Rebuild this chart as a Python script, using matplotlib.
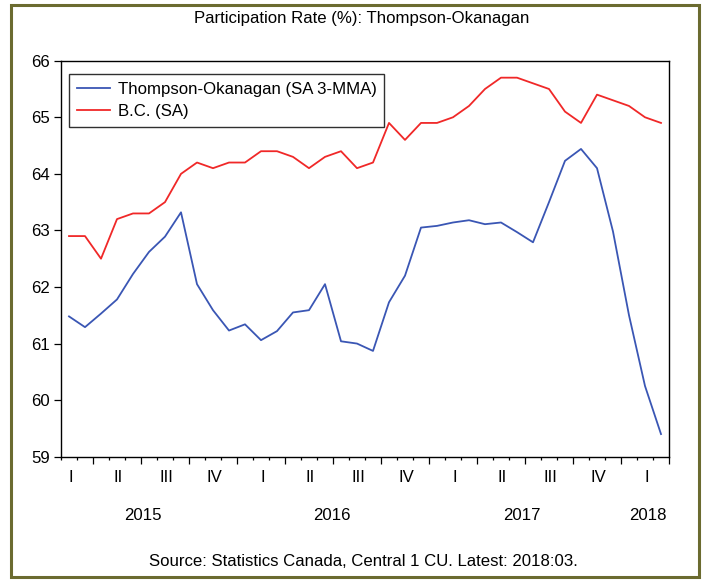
import matplotlib
matplotlib.use("Agg")
import matplotlib.pyplot as plt
import matplotlib.transforms as mtransforms
from matplotlib.patches import Rectangle
import numpy as np

plt.rcParams['font.family'] = ['Liberation Sans', 'DejaVu Sans']

# Monthly data, Jan 2015 - Feb 2018
thompson = [61.48, 61.29, 61.53, 61.78, 62.23, 62.62, 62.89, 63.32, 62.05, 61.59,
            61.23, 61.34, 61.06, 61.22, 61.55, 61.59, 62.05, 61.04, 61.00, 60.87,
            61.73, 62.20, 63.05, 63.08, 63.14, 63.18, 63.11, 63.14, 62.97, 62.79,
            63.50, 64.23, 64.44, 64.10, 62.98, 61.50, 60.25, 59.40]
bc = [62.9, 62.9, 62.5, 63.2, 63.3, 63.3, 63.5, 64.0, 64.2, 64.1,
      64.2, 64.2, 64.4, 64.4, 64.3, 64.1, 64.3, 64.4, 64.1, 64.2,
      64.9, 64.6, 64.9, 64.9, 65.0, 65.2, 65.5, 65.7, 65.7, 65.6,
      65.5, 65.1, 64.9, 65.4, 65.3, 65.2, 65.0, 64.9]
quarter_labels = ['I', 'II', 'III', 'IV', 'I', 'II', 'III', 'IV', 'I', 'II', 'III', 'IV', 'I']
year_labels = ['2015', '2016', '2017', '2018']
year_pos = [4.6, 16.4, 28.3, 36.2]
yticks = [59, 60, 61, 62, 63, 64, 65, 66]

FS = 12.1
W, H = 704, 580
fig = plt.figure(figsize=(W / 100, H / 100), dpi=100)
ax = fig.add_axes([61 / W, 1 - 456.7 / H, 608 / W, 396 / H])

x = np.arange(len(thompson))
ax.plot(x, thompson, color='#3a56b4', lw=1.3, label='Thompson-Okanagan (SA 3-MMA)')
ax.plot(x, bc, color='#f02828', lw=1.3, label='B.C. (SA)')

n = len(thompson)
ax.set_xlim(-0.5, n - 0.5)
ax.set_ylim(59, 66)
ax.set_yticks(yticks)
ax.set_yticklabels([str(v) for v in yticks])
ax.tick_params(axis='y', direction='out', length=5, width=0.9, labelsize=FS, pad=3)

# x ticks: short month-boundary ticks, long ticks every quarter
ax.set_xticks(np.arange(1.5, n, 3))
ax.set_xticks(np.arange(-0.5, n, 1), minor=True)
ax.set_xticklabels([])
ax.tick_params(axis='x', which='major', direction='out', length=5, width=0.9)
ax.tick_params(axis='x', which='minor', direction='out', length=2.5, width=0.9)

for s in ax.spines.values():
    s.set_linewidth(1.0)
    s.set_color('black')

trans = mtransforms.blended_transform_factory(ax.transData, fig.transFigure)
for q, lab in enumerate(quarter_labels):
    ax.text(3 * q + 0.1, 1 - 478 / H, lab, transform=trans, ha='center', va='center',
            fontsize=FS)
for yp, lab in zip(year_pos, year_labels):
    ax.text(yp, 1 - 516 / H, lab, transform=trans, ha='center', va='center', fontsize=FS)

leg = ax.legend(loc='upper left', bbox_to_anchor=(8 / 608, 1 - 13.5 / 396),
                borderaxespad=0, fancybox=False, edgecolor='#303030', framealpha=1,
                fontsize=FS, handlelength=2.0, handletextpad=0.45, labelspacing=0.45,
                borderpad=0.45)
leg.get_frame().set_linewidth(1.0)

fig.text(0.514, 1 - 19 / H, 'Participation Rate (%): Thompson-Okanagan', ha='center',
         va='center', fontsize=FS)
fig.text(0.516, 1 - 561.5 / H, 'Source: Statistics Canada, Central 1 CU. Latest: 2018:03.',
         ha='center', va='center', fontsize=FS)

fig.patches.append(Rectangle((11 / W, 1 - 577 / H), (699 - 11) / W, (577 - 5) / H,
                             transform=fig.transFigure, fill=False, edgecolor='#6b6b30',
                             lw=2.2))

fig.savefig('out.png', dpi=100)
